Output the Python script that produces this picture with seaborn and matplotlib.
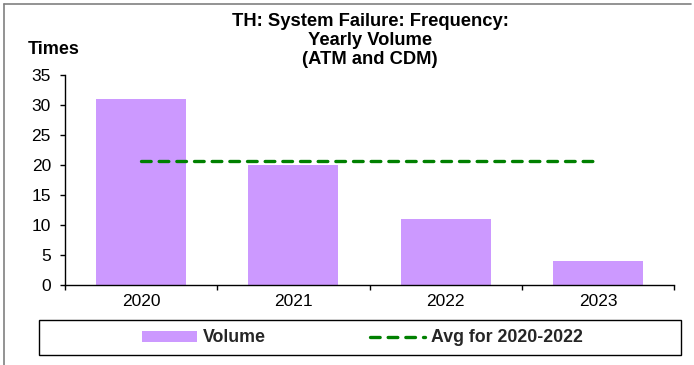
import matplotlib
matplotlib.use("Agg")
import matplotlib.pyplot as plt
from matplotlib.patches import Patch, Rectangle
from matplotlib.lines import Line2D
import seaborn as sns
import pandas as pd

# Yearly volume of system failures (ATM and CDM)
years = ["2020", "2021", "2022", "2023"]
volume = [31, 20, 11, 4]
avg_years = ["2020", "2021", "2022"]
y_ticks = [0, 5, 10, 15, 20, 25, 30, 35]
title_lines = ["TH: System Failure: Frequency:", "Yearly Volume", "(ATM and CDM)"]

avg_value = sum(v for y, v in zip(years, volume) if y in avg_years) / len(avg_years)

sns.set_theme(style="white")
plt.rcParams["font.family"] = ["Liberation Sans", "DejaVu Sans"]
plt.rcParams["font.size"] = 12

bar_color = "#CC99FF"
line_color = "#008000"

W, H = 694, 365


def fx(px):
    return px / W


def fy(py):
    return 1 - py / H


df = pd.DataFrame({"Year": years, "Volume": volume})

fig = plt.figure(figsize=(W / 100, H / 100), dpi=100)
ax = fig.add_axes([fx(65), fy(285), (674 - 65) / W, (285 - 75) / H])

sns.barplot(data=df, x="Year", y="Volume", color=bar_color, saturation=1,
            width=0.59, ax=ax, linewidth=0)

line, = ax.plot(range(len(years)), [avg_value] * len(years), color=line_color,
                lw=2.4, dash_capstyle="round", zorder=3)
line.set_dashes((2.9, 2.4))

ax.set_xlim(-0.5, len(years) - 0.5)
ax.set_ylim(0, 35)
ax.set_yticks(y_ticks)
ax.set_xlabel("")
ax.set_ylabel("")

for side in ("top", "right"):
    ax.spines[side].set_visible(False)
for side in ("left", "bottom"):
    ax.spines[side].set_color("black")
    ax.spines[side].set_linewidth(1)

ax.tick_params(axis="y", which="major", direction="out", length=3.6, width=1,
               color="black", left=True, pad=6.5, labelsize=12.5,
               labelcolor="black")
ax.tick_params(axis="x", which="major", length=0, pad=6.5, labelsize=12.5,
               labelcolor="black")
ax.set_xticks([i + 0.5 for i in range(-1, len(years))], minor=True)
ax.tick_params(axis="x", which="minor", direction="out", length=3.6, width=1,
               color="black", bottom=True)

# Title, one line per text so each baseline sits where it should
for text, base in zip(title_lines, [26, 45, 64.5]):
    fig.text(fx(370), fy(base), text, ha="center", va="baseline",
             fontsize=13.2, fontweight="bold", color="black")
fig.text(fx(28), fy(50), "Times", ha="left", va="center",
         fontsize=13, fontweight="bold", color="black")

# Legend with its frame
fig.add_artist(Rectangle((fx(39), fy(355)), (681 - 39) / W, 35 / H,
                         transform=fig.transFigure, fill=False,
                         edgecolor="black", lw=1))
avg_handle = Line2D([], [], color=line_color, lw=2.4, dash_capstyle="round",
                    dashes=(2.9, 2.4))
handles = [Patch(facecolor=bar_color, edgecolor="none"), avg_handle]
labels = ["Volume", "Avg for " + avg_years[0] + "-" + avg_years[-1]]
fig.legend(handles, labels, loc="center", ncol=2, frameon=False,
           bbox_to_anchor=(fx(362.5), fy(338)),
           prop={"weight": "bold", "size": 12.8},
           handlelength=3.1, handletextpad=0.34, columnspacing=5.85,
           handleheight=0.56)

# Outer figure border (top and left)
border = "#808080"
fig.add_artist(Line2D([fx(4), fx(691)], [fy(3.5), fy(3.5)],
                      transform=fig.transFigure, color=border, lw=1.2))
fig.add_artist(Line2D([fx(4), fx(4)], [fy(3.5), 0],
                      transform=fig.transFigure, color=border, lw=1.2))

fig.savefig("out.png", dpi=100)
